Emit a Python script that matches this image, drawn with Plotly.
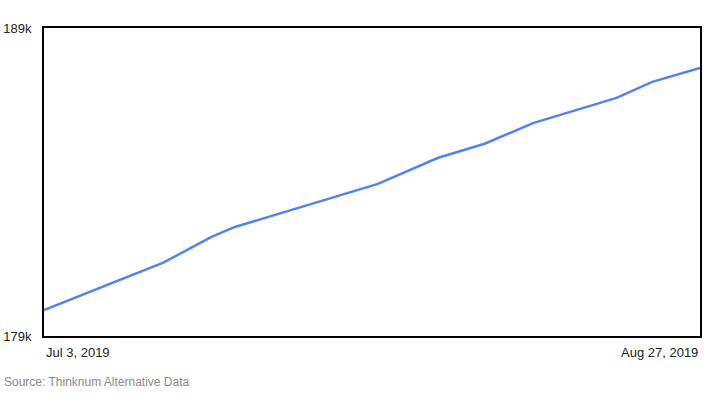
import plotly.graph_objects as go

dates = ["2019-07-03", "2019-07-13", "2019-07-17", "2019-07-19", "2019-07-31",
         "2019-08-05", "2019-08-09", "2019-08-13", "2019-08-20", "2019-08-23", "2019-08-27"]
values = [179840, 181380, 182210, 182540, 183940, 184780, 185250, 185910, 186730, 187250, 187700]

y_ticks = [179000, 189000]
y_tick_labels = ["179k", "189k"]
x_tick_dates = ["2019-07-03", "2019-08-27"]
x_tick_labels = ["Jul 3, 2019", "Aug 27, 2019"]
source_text = "Source: Thinknum Alternative Data"

FONT = "Liberation Sans, Arial, sans-serif"

fig = go.Figure()
fig.add_trace(go.Scatter(x=dates, y=values, mode="lines",
                         line=dict(color="#5580f6", width=2.5), hoverinfo="skip"))

fig.update_layout(
    width=711, height=402,
    margin=dict(l=44, r=11, t=28, b=66, autoexpand=False),
    paper_bgcolor="white", plot_bgcolor="white",
    showlegend=False,
    font=dict(family=FONT, size=13, color="#222222"),
)
fig.update_xaxes(
    range=[x_tick_dates[0], x_tick_dates[1]],
    showgrid=False, zeroline=False, showticklabels=False, automargin=False,
    showline=True, mirror=True, linecolor="black", linewidth=2,
)
fig.update_yaxes(
    range=[y_ticks[0], y_ticks[1]],
    tickvals=y_ticks, ticktext=y_tick_labels, automargin=False,
    showgrid=False, zeroline=False,
    showline=True, mirror=True, linecolor="black", linewidth=2,
    ticks="", ticklabelstandoff=8,
    tickfont=dict(family=FONT, size=13, color="#222222"),
)

for d, lab, anchor in zip(x_tick_dates, x_tick_labels, ["left", "right"]):
    fig.add_annotation(x=d, xref="x", y=-0.052, yref="paper", text=lab,
                       showarrow=False, xanchor=anchor, yanchor="middle",
                       font=dict(family=FONT, size=13, color="#222222"))

fig.add_annotation(x=-0.064, xref="paper", y=-0.149, yref="paper", text=source_text,
                   showarrow=False, xanchor="left", yanchor="middle",
                   font=dict(family=FONT, size=12, color="#8a8a8a"))

fig.write_html("out.html",
               config={"displayModeBar": False},
               post_script="document.body.style.margin='0px';document.body.style.overflow='hidden';")
